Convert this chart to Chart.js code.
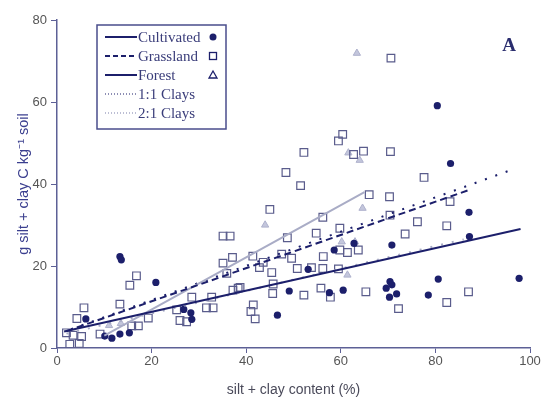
<!DOCTYPE html>
<html>
<head>
<meta charset="utf-8">
<script src="https://cdn.jsdelivr.net/npm/chart.js@4.4.0/dist/chart.umd.min.js"></script>
<style>
  html, body { margin: 0; padding: 0; background: #fff; }
  #wrap { width: 543px; height: 399px; }
</style>
</head>
<body>
<div id="wrap"><canvas id="chart" width="543" height="399"></canvas></div>
<script>
// points, [silt+clay %, g C kg-1]
const cultivated = [
  [13.3, 22.3], [13.6, 21.5], [20.9, 16], [6.1, 7.1], [10.1, 2.9], [11.6, 2.4],
  [13.3, 3.4], [15.3, 3.7], [26.8, 9.4], [28.3, 8.6], [28.5, 7],
  [70.8, 25.1], [62.8, 25.5], [58.6, 23.9], [53.1, 19.2], [49.1, 13.9],
  [57.6, 13.5], [60.5, 14.1], [46.6, 8], [70.4, 16.2], [70.8, 15.4],
  [69.6, 14.6], [71.8, 13.2], [70.3, 12.4],
  [80.4, 59.1], [83.2, 45], [87.1, 33.1], [87.2, 27.2], [80.6, 16.8],
  [78.5, 12.9], [97.7, 17]
];
const grassland = [
  [35.1, 27.3], [36.6, 27.3], [37.1, 22.1], [16.8, 17.6], [15.4, 15.3],
  [5.7, 9.8], [13.3, 10.7], [4.2, 7.2], [28.5, 12.4], [32.7, 12.4],
  [33, 9.8], [31.6, 9.8], [35.1, 20.7], [35.9, 18.2], [37.2, 14.1],
  [38.3, 14.6], [19.3, 7.3], [25.3, 9.3], [26, 6.7], [27.4, 6.4],
  [15.8, 5.4], [17.2, 5.4], [2, 3.7], [3.4, 3.1], [5.2, 2.8], [9.1, 3.4],
  [2.7, 0.9], [4.7, 1.1],
  [60.4, 52.1], [59.5, 50.5], [52.2, 47.7], [62.7, 47.2], [64.8, 48],
  [70.5, 47.9], [48.4, 42.8], [51.5, 39.6], [66, 37.4], [70.3, 36.9],
  [45, 33.8], [56.2, 31.9], [70.4, 32.4], [48.7, 26.9], [54.8, 28],
  [59.8, 29.2], [73.6, 27.8], [41.4, 22.4], [43.6, 20.9], [47.5, 22.9],
  [49.6, 21.9], [56.3, 22.3], [59.8, 23.9], [61.4, 23.3], [63.7, 23.9],
  [42.8, 19.6], [45.4, 18.4], [50.8, 19.4], [53.8, 19.6], [56.2, 19.4],
  [59.5, 19.3], [45.7, 15.6], [38.7, 14.8], [45.6, 13.3], [52.2, 12.9],
  [55.8, 14.6], [57.8, 12.4], [65.3, 13.7], [72.2, 9.6], [41.5, 10.5],
  [41, 8.9], [41.9, 7.1],
  [70.6, 70.7], [77.6, 41.6], [83.1, 35.7], [76.2, 30.8], [82.4, 29.8],
  [87, 13.7], [82.4, 11.1]
];
const forest = [
  [63.4, 71.9], [61.6, 47.6], [64, 45.8], [44, 30], [64.6, 34.1],
  [60.2, 25.9], [63, 25.9], [61.4, 17.8], [11, 5.5], [13.5, 6]
];

// fitted lines, end points
const cultivatedFit = [[1.5, 4], [98, 29]];
const grasslandFit = [[2, 4.1], [87, 38.5]];
const forestFit = [[10, 3], [65, 38]];
const clay11Fit = [[3, 4.6], [95.5, 43.2]];
const clay21Fit = [[2, 3.5], [86, 26.5]];

const xTicks = [0, 20, 40, 60, 80, 100];
const yTicks = [0, 20, 40, 60, 80];

const navy = "#1c1f6b";
const axisColor = "#5d6096";
const lightGray = "#a9acc6";

const pts = arr => arr.map(p => ({ x: p[0], y: p[1] }));

const lineSet = (label, data, color, dash, width) => ({
  label,
  data: pts(data),
  showLine: true,
  borderColor: color,
  borderWidth: width,
  borderDash: dash,
  pointRadius: 0,
  fill: false,
  order: 0,
});

const legendRows = [
  { text: "Cultivated", dash: [], color: navy, marker: "circle" },
  { text: "Grassland", dash: [5, 3], color: navy, marker: "square" },
  { text: "Forest", dash: [], color: navy, marker: "triangle" },
  { text: "1:1 Clays", dash: [1, 2], color: navy, marker: null },
  { text: "2:1 Clays", dash: [1, 2], color: "#7b7eaa", marker: null },
];

const legendBox = {
  id: "legendBox",
  afterDatasetsDraw(chart) {
    const ctx = chart.ctx;
    ctx.save();
    ctx.fillStyle = "#fff";
    ctx.fillRect(97, 25, 129, 104);
    ctx.strokeStyle = "#4a4d8c";
    ctx.lineWidth = 1.5;
    ctx.strokeRect(97, 25, 129, 104);

    ctx.font = "15px 'Liberation Serif', serif";
    ctx.textBaseline = "middle";
    legendRows.forEach((r, i) => {
      const y = 37 + i * 19;
      ctx.beginPath();
      ctx.setLineDash(r.dash);
      ctx.strokeStyle = r.color;
      ctx.lineWidth = r.dash.length && r.dash[0] === 1 ? 1.2 : 2;
      ctx.moveTo(105, y);
      ctx.lineTo(137, y);
      ctx.stroke();
      ctx.setLineDash([]);
      ctx.fillStyle = "#3a3d7a";
      ctx.fillText(r.text, 138, y + 1);

      ctx.lineWidth = 1.3;
      ctx.strokeStyle = navy;
      if (r.marker === "circle") {
        ctx.beginPath();
        ctx.fillStyle = navy;
        ctx.arc(213, y, 3.5, 0, Math.PI * 2);
        ctx.fill();
      } else if (r.marker === "square") {
        ctx.strokeRect(209.5, y - 3.5, 7, 7);
      } else if (r.marker === "triangle") {
        ctx.beginPath();
        ctx.moveTo(213, y - 4);
        ctx.lineTo(217, y + 3);
        ctx.lineTo(209, y + 3);
        ctx.closePath();
        ctx.stroke();
      }
    });

    ctx.fillStyle = "#2a2d6e";
    ctx.font = "bold 19px 'Liberation Serif', serif";
    ctx.textAlign = "center";
    ctx.fillText("A", 509, 46);
    ctx.restore();
  },
};

new Chart(document.getElementById("chart"), {
  type: "scatter",
  data: {
    datasets: [
      lineSet("Cultivated fit", cultivatedFit, navy, [], 2),
      lineSet("Grassland fit", grasslandFit, navy, [7, 4], 2),
      lineSet("Forest fit", forestFit, lightGray, [], 2),
      lineSet("1:1 Clays", clay11Fit, navy, [2, 9], 2),
      lineSet("2:1 Clays", clay21Fit, lightGray, [2, 9], 2),
      {
        label: "Cultivated",
        data: pts(cultivated),
        pointStyle: "circle",
        pointRadius: 3.6,
        backgroundColor: navy,
        borderColor: navy,
        borderWidth: 0,
        order: 1,
      },
      {
        label: "Grassland",
        data: pts(grassland),
        pointStyle: "rect",
        pointRadius: 5.4,
        backgroundColor: "rgba(255,255,255,0)",
        borderColor: "#5a5c8c",
        borderWidth: 1.2,
        order: 1,
      },
      {
        label: "Forest",
        data: pts(forest),
        pointStyle: "triangle",
        pointRadius: 4.2,
        backgroundColor: "#c3c6dc",
        borderColor: "#aeb1cc",
        borderWidth: 1,
        order: 1,
      },
    ],
  },
  options: {
    responsive: false,
    devicePixelRatio: 1,
    animation: false,
    layout: { padding: { top: 20, right: 13, left: 0, bottom: 0 } },
    plugins: { legend: { display: false }, tooltip: { enabled: false } },
    scales: {
      x: {
        type: "linear",
        min: 0,
        max: 100,
        afterBuildTicks: s => { s.ticks = xTicks.map(v => ({ value: v })); },
        afterFit: s => { s.height = 51; },
        border: { display: true, color: axisColor, width: 1.5 },
        grid: { drawOnChartArea: false, drawTicks: true, tickLength: 5, color: axisColor },
        ticks: { color: "#555", padding: 1, font: { family: "'Liberation Sans', Arial", size: 13 } },
        title: {
          display: true,
          text: "silt + clay content (%)",
          color: "#4a4a5a",
          padding: { top: 4, bottom: 0 },
          font: { family: "'Liberation Sans', Arial", size: 14 },
        },
      },
      y: {
        type: "linear",
        min: 0,
        max: 80,
        afterBuildTicks: s => { s.ticks = yTicks.map(v => ({ value: v })); },
        afterFit: s => { s.width = 57; },
        border: { display: true, color: axisColor, width: 1.5 },
        grid: { drawOnChartArea: false, drawTicks: true, tickLength: 6, color: axisColor },
        ticks: { color: "#555", padding: 4, font: { family: "'Liberation Sans', Arial", size: 13 } },
        title: {
          display: true,
          text: "g silt + clay C kg⁻¹ soil",
          color: "#3b3f8f",
          padding: { top: 15, bottom: 0 },
          font: { family: "'Liberation Sans', Arial", size: 14.5 },
        },
      },
    },
  },
  plugins: [legendBox],
});
</script>
</body>
</html>
